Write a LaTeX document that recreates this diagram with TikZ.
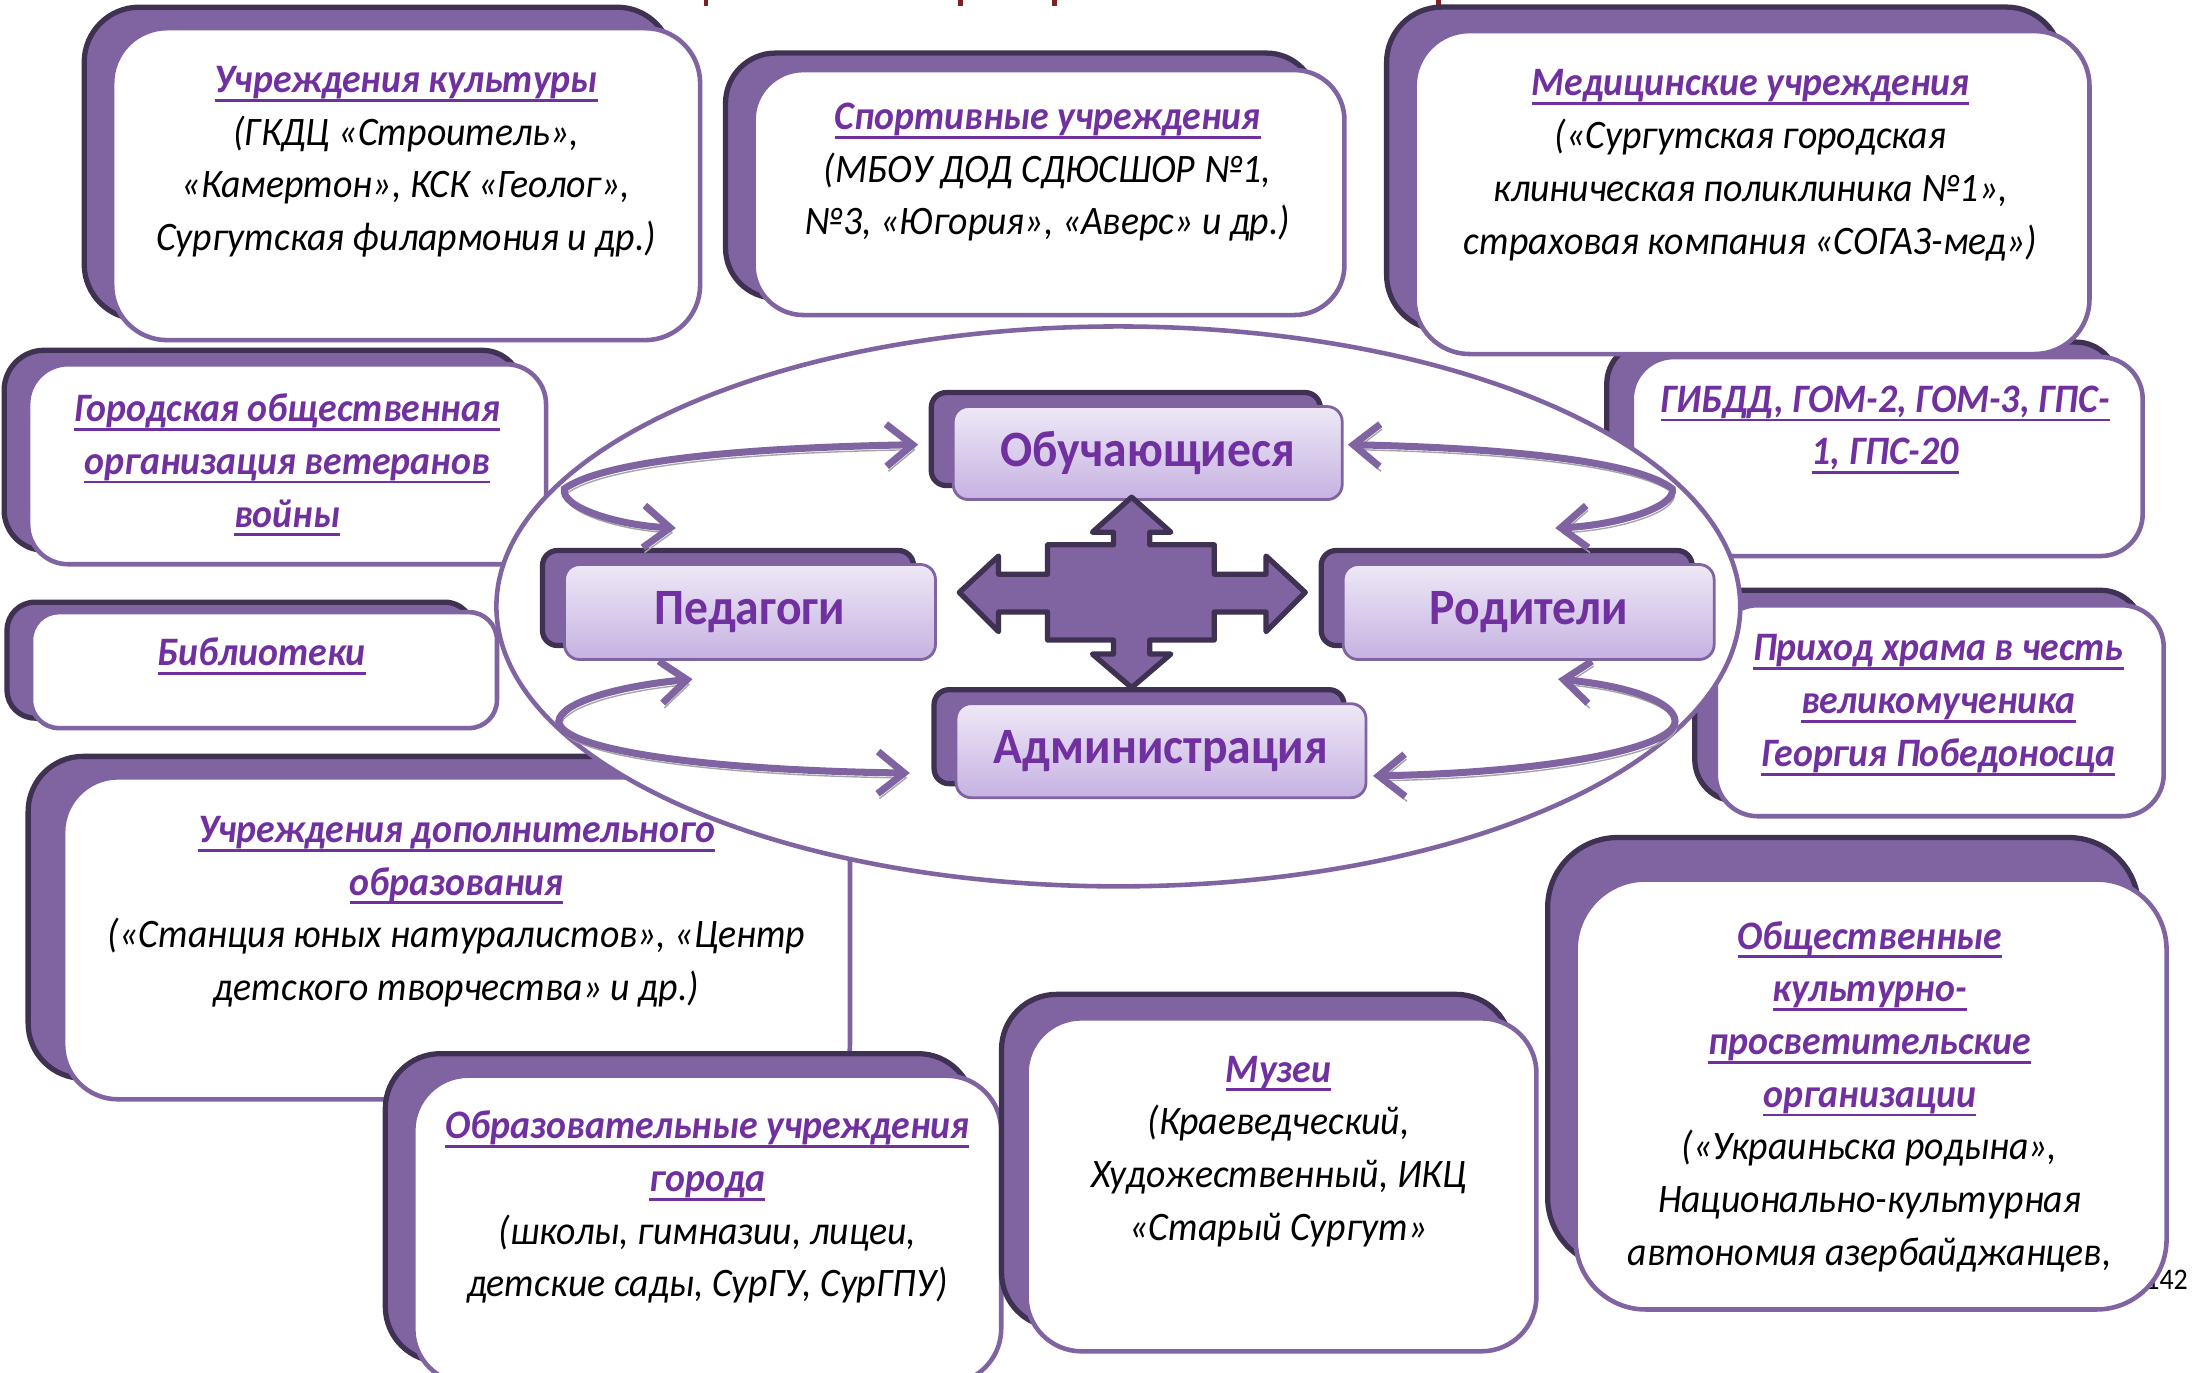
\documentclass[tikz,border=0pt]{standalone}
\usepackage{fontspec}
\setmainfont{Carlito}[FakeStretch=0.935]
\usetikzlibrary{arrows.meta,shadows}

\definecolor{boxpurple}{HTML}{8064A2}
\definecolor{boxdark}{HTML}{3F3151}
\definecolor{titlepurple}{HTML}{7030A0}
\definecolor{roletop}{HTML}{EEE8F6}
\definecolor{rolebottom}{HTML}{C6B2E2}
\definecolor{arrowgray}{HTML}{A5A5A5}
\definecolor{titlered}{HTML}{7B2323}

\newcommand{\undl}[1]{\setbox0=\hbox{#1}\rlap{\rule[-2.6pt]{\wd0}{0.8pt}}\box0}
\newcommand{\orgtitle}[1]{{\bfseries\color{titlepurple}\undl{#1}}}

\tikzset{
  orgbox/.style 2 args={draw=boxpurple, fill=white, line width=1.3pt, rounded corners=0.5cm,
    copy shadow={shadow xshift=#1, shadow yshift=#2, fill=boxpurple, draw=boxdark, line width=1.5pt}},
  orgtext/.style={align=center, inner sep=0pt, font=\itshape\fontsize{11.5}{15}\selectfont},
  rolebox/.style={draw=boxpurple, line width=0.8pt, rounded corners=0.15cm,
    top color=roletop, bottom color=rolebottom, text=titlepurple,
    font=\bfseries\fontsize{14.5}{16}\selectfont,
    copy shadow={shadow xshift=-0.22cm, shadow yshift=0.14cm, fill=boxpurple, draw=boxdark, line width=1.5pt}},
  linkarrow/.style={draw=boxpurple, line width=2pt,
    {Straight Barb[length=7.5pt,width=12pt]}-{Straight Barb[length=7.5pt,width=12pt]},
    preaction={draw=arrowgray, transform canvas={xshift=0.5pt,yshift=-1.4pt}}},
}

\begin{document}
\begin{tikzpicture}[x=0.014cm, y=-0.014cm]
    \useasboundingbox (0,0) rectangle (1568,980);
    % cut-off heading
    \foreach \xpos in {504,686,753,1027}
        \draw[titlered, line width=1.3pt] (\xpos,0) -- (\xpos,4);
    \node[font=\fontsize{8.5}{10}\selectfont, inner sep=0pt] (pagenum) at (1547,914) {142};

    % partner organisations
    \node[orgbox={-0.28cm}{0.21cm}, minimum width=5.88cm, minimum height=3.12cm, rounded corners=0.55cm] (cult) at (290,131.5) {};
    \node[orgtext] (cultTxt) at (290,115.5) {\orgtitle{Учреждения культуры}\\(ГКДЦ «Строитель»,\\«Камертон», КСК «Геолог»,\\Сургутская филармония и др.)};
    \node[orgbox={-0.28cm}{0.17cm}, minimum width=5.91cm, minimum height=2.45cm] (sport) at (749,137.5) {};
    \node[orgtext] (sportTxt) at (748,123) {\orgtitle{Спортивные учреждения}\\(МБОУ ДОД СДЮСШОР №1,\\№3, «Югория», «Аверс» и др.)};
    \node[orgbox={-0.35cm}{0.21cm}, minimum width=7.87cm, minimum height=3.22cm, rounded corners=0.55cm] (addedu) at (326,670) {};
    \node[orgtext] (addeduTxt) at (326,651) {\orgtitle{Учреждения дополнительного}\\\orgtitle{образования}\\(«Станция юных натуралистов», «Центр\\детского творчества» и др.)};
    \node[orgbox={-0.28cm}{0.22cm}, minimum width=5.88cm, minimum height=3.08cm, rounded corners=0.55cm] (cityedu) at (505,878) {};
    \node[orgtext] (cityeduTxt) at (505,862) {\orgtitle{Образовательные учреждения}\\\orgtitle{города}\\(школы, гимназии, лицеи,\\детские сады, СурГУ, СурГПУ)};
    \node[orgbox={-0.24cm}{0.14cm}, minimum width=5.18cm, minimum height=2.00cm, rounded corners=0.4cm] (veter) at (205,331.5) {};
    \node[orgtext] (veterTxt) at (205,332) {\orgtitle{Городская общественная}\\\orgtitle{организация ветеранов}\\\orgtitle{войны}};
    \node[orgbox={-0.24cm}{0.10cm}, minimum width=4.66cm, minimum height=1.16cm, rounded corners=0.28cm] (libr) at (188.5,478.5) {};
    \node[orgtext] (librTxt) at (187,468.5) {\orgtitle{Библиотеки}};
    \node[orgbox={-0.25cm}{0.15cm}, minimum width=5.11cm, minimum height=1.99cm, rounded corners=0.42cm] (police) at (1347.5,326) {};
    \node[orgtext] (policeTxt) at (1346,307) {\orgtitle{ГИБДД, ГОМ-2, ГОМ-3, ГПС-}\\\orgtitle{1, ГПС-20}};
    \node[orgbox={-0.21cm}{0.15cm}, minimum width=4.48cm, minimum height=2.11cm, rounded corners=0.42cm] (church) at (1385,507.5) {};
    \node[orgtext] (churchTxt) at (1384,503.5) {\orgtitle{Приход храма в честь}\\\orgtitle{великомученика}\\\orgtitle{Георгия Победоносца}};
    \node[orgbox={-0.28cm}{0.42cm}, minimum width=5.91cm, minimum height=4.30cm, rounded corners=0.7cm] (public) at (1336,781.5) {};
    \node[orgtext] (publicTxt) at (1335,783) {\orgtitle{Общественные}\\\orgtitle{культурно-}\\\orgtitle{просветительские}\\\orgtitle{организации}\\(«Украиньска родына»,\\Национально-культурная\\автономия азербайджанцев,};
    \node[orgbox={-0.25cm}{0.24cm}, minimum width=5.10cm, minimum height=3.33cm, rounded corners=0.55cm] (museum) at (915,846) {};
    \node[orgtext] (museumTxt) at (913,822) {\orgtitle{Музеи}\\(Краеведческий,\\Художественный, ИКЦ\\«Старый Сургут»};

    % school community
    \draw[draw=boxpurple, fill=white, line width=1.3pt] (798.5,433) ellipse [x radius=6.22cm, y radius=2.8cm];
    \node[orgbox={-0.28cm}{0.24cm}, minimum width=6.75cm, minimum height=3.23cm, rounded corners=0.55cm] (medic) at (1251,137.5) {};
    \node[orgtext] (medicTxt) at (1250,118) {\orgtitle{Медицинские учреждения}\\(«Сургутская городская\\клиническая поликлиника №1»,\\страховая компания «СОГАЗ-мед»)};

    \node[rolebox, minimum width=3.89cm, minimum height=0.93cm] (obuch) at (819.5,323.5) {Обучающиеся};
    \node[rolebox, minimum width=3.71cm, minimum height=0.95cm] (ped) at (535.5,437) {Педагоги};
    \node[rolebox, minimum width=3.71cm, minimum height=0.95cm] (rod) at (1091.5,437) {Родители};
    \node[rolebox, minimum width=4.10cm, minimum height=0.94cm] (admin) at (829,536) {Администрация};

    \draw[fill=boxpurple, draw=boxdark, line width=1.5pt, line join=round]
        (808,355) -- (836,380) -- (821,380) -- (821,389) -- (867,389) -- (867,410) -- (904,410) -- (904,397)
        -- (932,423) -- (904,451) -- (904,437) -- (867,437) -- (867,457) -- (821,457) -- (821,467) -- (836,467)
        -- (808,491) -- (780,467) -- (795,467) -- (795,457) -- (748,457) -- (748,437) -- (713,437) -- (713,451)
        -- (685,423) -- (713,397) -- (713,410) -- (748,410) -- (748,389) -- (795,389) -- (795,380) -- (780,380) -- cycle;

    \draw[linkarrow] ([shift={(-24,-6)}]obuch.west) .. controls (520,320) and (430,330) .. (403,349)
        .. controls (400,362) and (440,375) .. ([shift={(-53,-25)}]ped.north);
    \draw[linkarrow] ([shift={(3,-6)}]obuch.east) .. controls (1080,320) and (1170,330) .. (1194,349)
        .. controls (1197,362) and (1155,375) .. ([shift={(19,-25)}]rod.north);
    \draw[linkarrow] ([shift={(-41,13)}]ped.south) .. controls (440,490) and (400,502) .. (399,515)
        .. controls (400,535) and (500,550) .. ([shift={(-32,16)}]admin.west);
    \draw[linkarrow] ([shift={(21,13)}]rod.south) .. controls (1165,490) and (1196,502) .. (1196,515)
        .. controls (1196,535) and (1100,552) .. ([shift={(4,18)}]admin.east);
\end{tikzpicture}
\end{document}
